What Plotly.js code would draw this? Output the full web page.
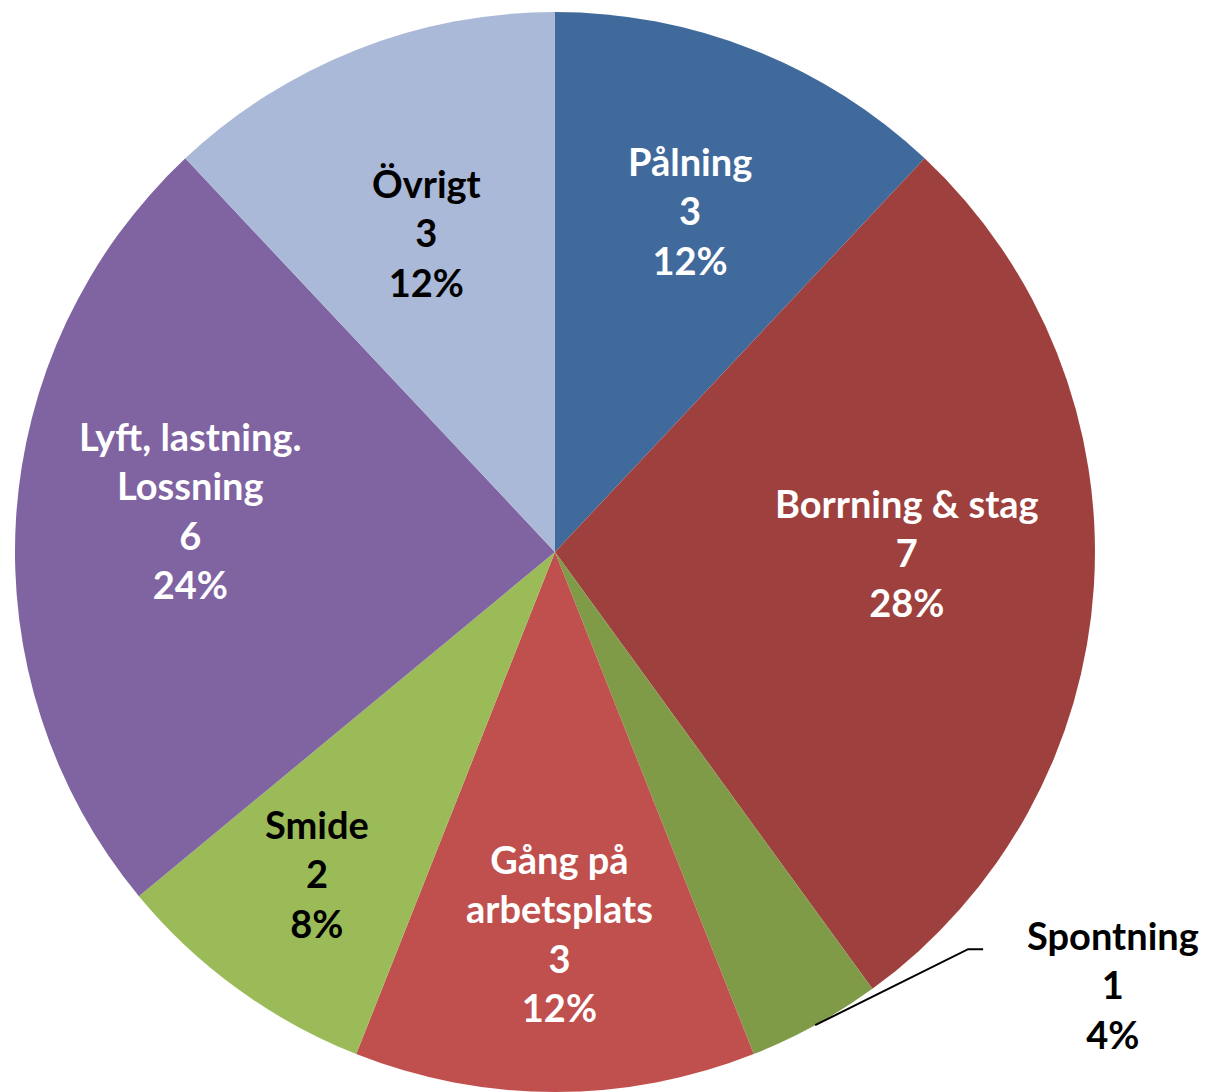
<!DOCTYPE html>
<html>
<head>
<meta charset="utf-8">
<script src="https://cdn.plot.ly/plotly-3.0.1.min.js"></script>
<style>html,body{margin:0;padding:0;background:#fff;}#chart{width:1207px;height:1092px;}</style>
</head>
<body>
<div id="chart"></div>
<script>
const labels = ["Pålning", "Borrning & stag", "Spontning", "Gång på<br>arbetsplats", "Smide", "Lyft, lastning.<br>Lossning", "Övrigt"];
const values = [3, 7, 1, 3, 2, 6, 3];
const colors = ["#416A9C", "#9E413E", "#809B48", "#C0504D", "#9BBB59", "#8064A2", "#AAB9D7"];
const textColors = ["#FFFFFF", "#FFFFFF", "#000000", "#FFFFFF", "#000000", "#FFFFFF", "#000000"];
const outsideLabel = "Spontning";

// label placement (style): radius as fraction of pie radius, angle nudge in degrees
const labelRadius = [0.68, 0.652, 0, 0.705, 0.74, 0.68, 0.637];
const labelAngleNudge = [0, -3.6, 0, -0.75, 0.5, 3, -0.3];

const W = 1207, H = 1092;
const FONT = {family: "Lato, Open Sans, sans-serif", size: 38, weight: "bold"};
const total = values.reduce((a, b) => a + b, 0);
const dom = {x: [0.0124, 0.9072], y: [0, 0.989]};

const trace = {
  type: "pie",
  labels: labels,
  values: values,
  sort: false,
  direction: "clockwise",
  rotation: 0,
  marker: {colors: colors, line: {width: 0}},
  textinfo: "none",
  hoverinfo: "label+value+percent",
  domain: dom
};

const cx = (dom.x[0] + dom.x[1]) / 2, cy = (dom.y[0] + dom.y[1]) / 2;
const R = Math.min((dom.x[1] - dom.x[0]) * W, (dom.y[1] - dom.y[0]) * H) / 2;

const annotations = [];
const shapes = [];
let cum = 0;
labels.forEach((l, i) => {
  const mid = (cum + values[i] / 2) / total * 360;
  cum += values[i];
  const txt = l + "<br>" + values[i] + "<br>" + Math.round(values[i] / total * 100) + "%";
  if (l === outsideLabel) {
    const a = mid * Math.PI / 180;
    const ex = cx + R * Math.sin(a) / W;
    const ey = cy + R * Math.cos(a) / H;
    const bx = ex + 153 / W, by = ey + 76 / H;
    const hx = bx + 15 / W;
    shapes.push({
      type: "path", xref: "paper", yref: "paper",
      path: `M ${ex} ${ey} L ${bx} ${by} L ${hx} ${by}`,
      line: {color: "#000000", width: 2}
    });
    annotations.push({
      xref: "paper", yref: "paper", x: hx + 130 / W, y: by - 35 / H,
      xanchor: "center", yanchor: "middle", showarrow: false, text: txt,
      font: Object.assign({}, FONT, {color: textColors[i]})
    });
  } else {
    const a = (mid + labelAngleNudge[i]) * Math.PI / 180;
    const r = R * labelRadius[i];
    annotations.push({
      xref: "paper", yref: "paper",
      x: cx + r * Math.sin(a) / W, y: cy + r * Math.cos(a) / H,
      xanchor: "center", yanchor: "middle", showarrow: false, text: txt,
      font: Object.assign({}, FONT, {color: textColors[i]})
    });
  }
});

const layout = {
  width: W, height: H,
  margin: {l: 0, r: 0, t: 0, b: 0},
  paper_bgcolor: "#FFFFFF",
  showlegend: false,
  shapes: shapes,
  annotations: annotations
};

Plotly.newPlot("chart", [trace], layout, {displayModeBar: false, staticPlot: true});
</script>
</body>
</html>
